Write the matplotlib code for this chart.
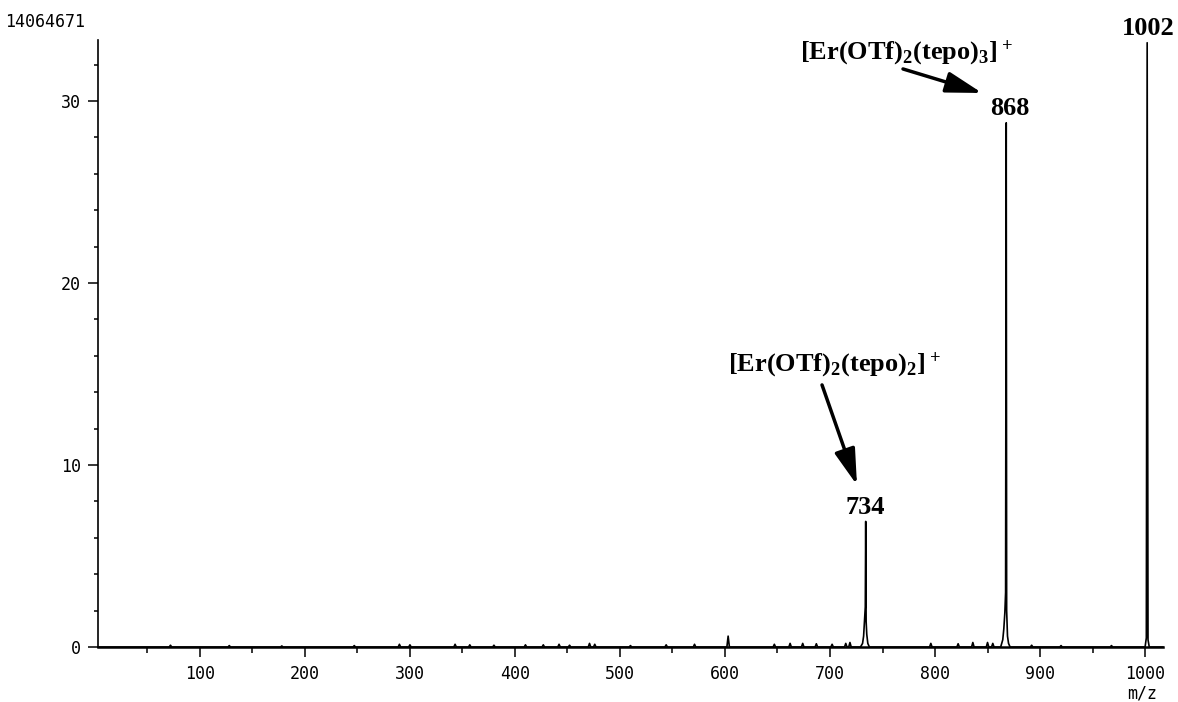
import numpy as np
import matplotlib
matplotlib.use("Agg")
import matplotlib.pyplot as plt
from matplotlib.ticker import MultipleLocator, FixedLocator

plt.rcParams["mathtext.default"] = "regular"

############## DATA ##############
# small noise peaks along the baseline: m/z, relative intensity
noise_mz = [72, 128, 178, 247, 290, 300, 343, 357, 380, 410, 427, 442, 452,
            471, 476, 510, 544, 571, 603, 647, 662, 674, 687, 702, 715, 719,
            796, 822, 836, 850, 855, 892, 920, 968]
noise_int = [0.10, 0.08, 0.06, 0.08, 0.15, 0.12, 0.15, 0.12, 0.10, 0.12, 0.12,
             0.15, 0.10, 0.20, 0.15, 0.08, 0.12, 0.15, 0.60, 0.15, 0.20, 0.20,
             0.18, 0.15, 0.20, 0.25, 0.20, 0.18, 0.25, 0.25, 0.20, 0.10, 0.08,
             0.08]

# profile of the three ion clusters
c734_mz = [729.0, 731.0, 732.0, 733.0, 733.6, 734.0, 734.4, 735.0, 736.0, 737.5]
c734_int = [0.0, 0.2, 0.6, 1.6, 2.2, 6.9, 1.4, 0.7, 0.2, 0.0]
c868_mz = [862.5, 864.5, 865.5, 866.5, 867.2, 867.8, 868.2, 869.0, 870.0, 871.5]
c868_int = [0.0, 0.4, 1.0, 1.9, 3.0, 28.8, 2.0, 0.6, 0.2, 0.0]
c1002_mz = [1000.0, 1001.2, 1002.0, 1002.8, 1004.0]
c1002_int = [0.0, 0.5, 33.2, 0.4, 0.0]

base_scale = 14064671
x_major = [100, 200, 300, 400, 500, 600, 700, 800, 900, 1000]
y_major = [0, 10, 20, 30]

label_2 = "[Er(OTf)$_2$(tepo)$_2$]$^+$"
label_3 = "[Er(OTf)$_2$(tepo)$_3$]$^+$"

############## BUILD THE TRACE ##############
pts = [(3, 0.0), (1017, 0.0)]
for m, h in zip(noise_mz, noise_int):
    pts += [(m - 1.2, 0.0), (m, h), (m + 1.2, 0.0)]
for xs, ys in [(c734_mz, c734_int), (c868_mz, c868_int), (c1002_mz, c1002_int)]:
    pts += list(zip(xs, ys))
pts.sort(key=lambda p: p[0])
trace_x = np.array([p[0] for p in pts])
trace_y = np.array([p[1] for p in pts])

############## PLOT ##############
fig = plt.figure(figsize=(11.78, 7.02), dpi=100)
ax = fig.add_axes([0.0832, 0.0783, 0.904, 0.8647])

ax.plot(trace_x, trace_y, color="black", lw=1.2, clip_on=False)

ax.set_xlim(3, 1017)
ax.set_ylim(0, 33.35)

ax.spines["top"].set_visible(False)
ax.spines["right"].set_visible(False)
ax.spines["left"].set_linewidth(1.2)
ax.spines["bottom"].set_linewidth(1.8)

tick_font = "DejaVu Sans Mono"
ax.xaxis.set_major_locator(FixedLocator(x_major))
ax.xaxis.set_minor_locator(MultipleLocator(50))
ax.yaxis.set_major_locator(FixedLocator(y_major))
ax.yaxis.set_minor_locator(MultipleLocator(2))
ax.tick_params(axis="x", which="major", direction="out", length=7, width=1.1, pad=6)
ax.tick_params(axis="x", which="minor", direction="out", length=4.5, width=1.1)
ax.tick_params(axis="y", which="major", direction="out", length=7, width=1.1, pad=5.5)
ax.tick_params(axis="y", which="minor", direction="out", length=3, width=1.1)
for lab in ax.get_xticklabels() + ax.get_yticklabels():
    lab.set_fontfamily(tick_font)
    lab.set_fontsize(12)

fig.text(5 / 1178, 1 - 22 / 702, str(base_scale), family=tick_font,
         fontsize=12, ha="left", va="center")
fig.text(1142 / 1178, 1 - 685 / 702, "m/z", family=tick_font,
         fontsize=12, ha="center", va="top")

# annotations
serif = dict(family="Liberation Serif", weight="bold", fontsize=19, color="black")
ax.text(671.4, 32.64, label_3, ha="left", va="center", clip_on=False, **serif)
ax.text(871.4, 29.56, "868", ha="center", va="center", **serif)
ax.text(1002.9, 34.0, "1002", ha="center", va="center", clip_on=False, **serif)
ax.text(602.9, 15.49, label_2, ha="left", va="center", **serif)
ax.text(733.3, 7.69, "734", ha="center", va="center", **serif)

arrow = dict(arrowstyle="-|>,head_length=1.1,head_width=0.32", lw=2.5,
             color="black", mutation_scale=20, shrinkA=0, shrinkB=0)
ax.annotate("", xy=(844.8, 30.44), xytext=(769.5, 31.76), arrowprops=arrow,
            annotation_clip=False)
ax.annotate("", xy=(725.7, 8.90), xytext=(692.4, 14.40), arrowprops=arrow)

fig.savefig("out.png", dpi=100)
